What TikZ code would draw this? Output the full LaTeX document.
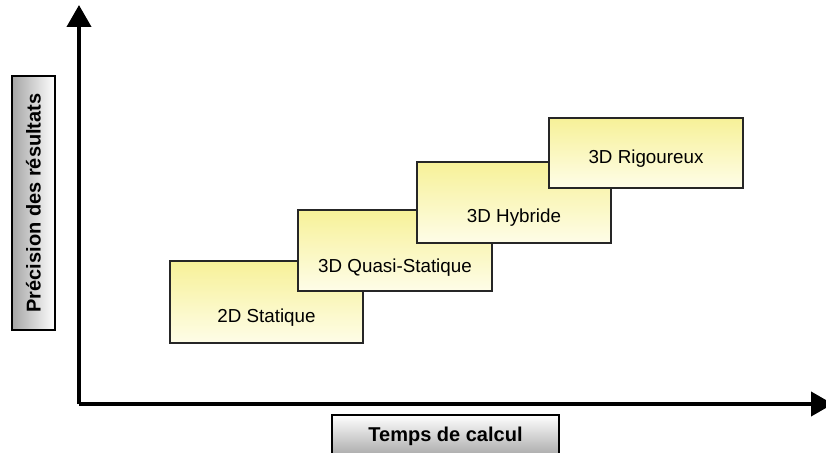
\documentclass[tikz,border=0pt]{standalone}
\usepackage{fontspec}
\setmainfont{Liberation Sans}
\usepackage{xcolor}
\usetikzlibrary{arrows.meta,positioning}

\definecolor{stagetop}{RGB}{247,241,152}
\definecolor{stagebot}{RGB}{254,253,232}
\definecolor{lblbot}{RGB}{165,165,165}

\begin{document}
\begin{tikzpicture}[
    x=1pt, y=1pt,
    every node/.style={font=\fontsize{18.8}{22}\selectfont},
    axis/.style={line width=4pt, -{Triangle[length=22pt,width=24pt]}},
    stagebox/.style={draw=black!85, line width=1.4pt, top color=stagetop, bottom color=stagebot, minimum width=194pt, minimum height=81pt, inner sep=0pt},
    stagetxt/.style={anchor=base, inner sep=0pt},
    lblbox/.style={draw=black, line width=1.4pt, inner sep=0pt, font=\fontsize{20}{24}\selectfont\bfseries}
]
\useasboundingbox (0,0) rectangle (826,452);

% axes
\coordinate (orig) at (79,48);
\coordinate (ytip) at (79,447);
\coordinate (xtip) at (833,48);
\draw[axis] (orig) -- (ytip);
\draw[axis] (orig) -- (xtip);

% axis labels
\node[lblbox, rotate=90, minimum width=254pt, minimum height=43pt, left color=lblbot, right color=white] (ylbl) at (33.5,249) {Précision des résultats};
\node[lblbox, minimum width=227pt, minimum height=43pt, top color=white, bottom color=lblbot] (xlbl) at (445.5,15.5) {Temps de calcul};

% stages
\node[stagebox, minimum width=193pt, minimum height=82pt] (s2d) at (266.5,150) {};
\node[stagetxt] (t2d) at ([yshift=-62pt]s2d.north) {2D Statique};
\node[stagebox] (squasi) at (395,201.5) {};
\node[stagetxt] (tquasi) at ([yshift=-63pt]squasi.north) {3D Quasi-Statique};
\node[stagebox] (shyb) at (514,249.5) {};
\node[stagetxt] (thyb) at ([yshift=-61pt]shyb.north) {3D Hybride};
\node[stagebox, minimum height=70pt] (srig) at (646,299) {};
\node[stagetxt] (trig) at ([yshift=-46pt]srig.north) {3D Rigoureux};
\end{tikzpicture}
\end{document}
